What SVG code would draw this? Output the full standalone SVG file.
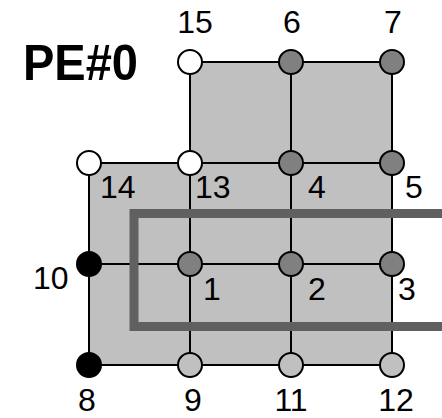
<svg xmlns="http://www.w3.org/2000/svg" width="442" height="418" viewBox="0 0 442 418">
<style>
.ln{stroke:#000;stroke-width:2;fill:none}
.nd{stroke:#000;stroke-width:2}
.w{fill:#fff}.g{fill:#808080}.l{fill:#c0c0c0}.b{fill:#000}
.t{font-family:"Liberation Sans",Arial,sans-serif;font-size:32px;fill:#000}
</style>
<rect width="442" height="418" fill="#fff"/>
<path d="M190,62H392V365H89V163H190Z" fill="#c0c0c0"/>
<g id="connectors">
<path class="ln" d="M190,62H392M89,163H392M89,264H392M89,365H392M89,163V365M190,62V365M291,62V365M392,62V365"/>
</g>
<rect x="134" y="213.5" width="330" height="113" fill="none" stroke="#606060" stroke-width="9"/>
<text x="23" y="80" font-family="Liberation Sans,Arial,sans-serif" font-weight="bold" font-size="50" textLength="115" lengthAdjust="spacingAndGlyphs">PE#0</text>
<g id="n15"><circle class="nd w" cx="190" cy="62" r="12"/><text class="t" x="195" y="33" text-anchor="middle">15</text></g>
<g id="n6"><circle class="nd g" cx="291" cy="62" r="12"/><text class="t" x="292" y="33" text-anchor="middle">6</text></g>
<g id="n7"><circle class="nd g" cx="392" cy="62" r="12"/><text class="t" x="393" y="33" text-anchor="middle">7</text></g>
<g id="n14"><circle class="nd w" cx="89" cy="163" r="12"/><text class="t" x="100" y="198">14</text></g>
<g id="n13"><circle class="nd w" cx="190" cy="163" r="12"/><text class="t" x="195" y="198">13</text></g>
<g id="n4"><circle class="nd g" cx="291" cy="163" r="12"/><text class="t" x="308" y="198">4</text></g>
<g id="n5"><circle class="nd g" cx="392" cy="163" r="12"/><text class="t" x="405" y="198">5</text></g>
<g id="n10"><circle class="nd b" cx="89" cy="264" r="12"/><text class="t" x="33" y="289">10</text></g>
<g id="n1"><circle class="nd g" cx="190" cy="264" r="12"/><text class="t" x="203" y="300">1</text></g>
<g id="n2"><circle class="nd g" cx="291" cy="264" r="12"/><text class="t" x="308" y="300">2</text></g>
<g id="n3"><circle class="nd g" cx="392" cy="264" r="12"/><text class="t" x="398" y="300">3</text></g>
<g id="n8"><circle class="nd b" cx="89" cy="365" r="12"/><text class="t" x="87" y="411" text-anchor="middle">8</text></g>
<g id="n9"><circle class="nd l" cx="190" cy="365" r="12"/><text class="t" x="193" y="411" text-anchor="middle">9</text></g>
<g id="n11"><circle class="nd l" cx="291" cy="365" r="12"/><text class="t" x="291" y="411" text-anchor="middle">11</text></g>
<g id="n12"><circle class="nd l" cx="392" cy="365" r="12"/><text class="t" x="396" y="411" text-anchor="middle">12</text></g>
</svg>
